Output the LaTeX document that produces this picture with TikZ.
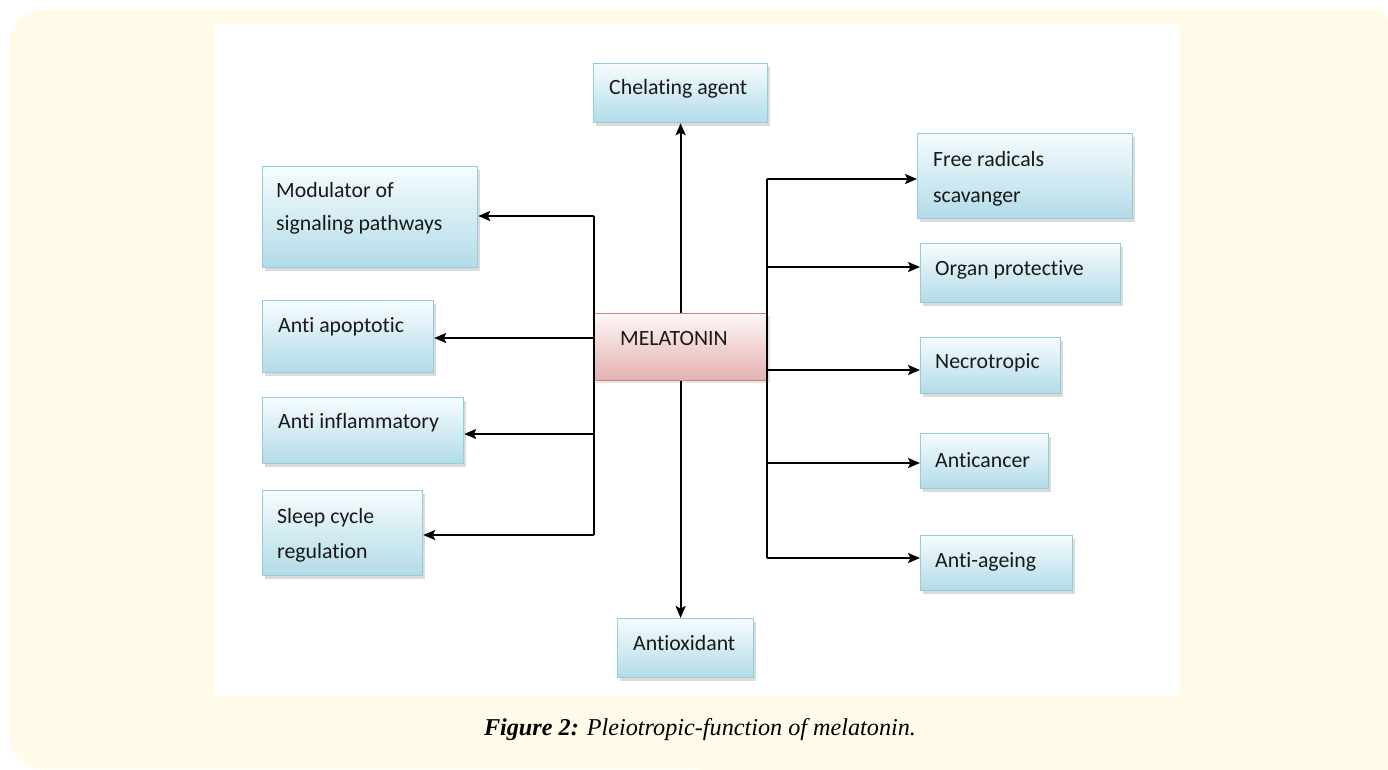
\documentclass[tikz,border=0pt]{standalone}
\usepackage{fontspec}
\setmainfont{Carlito}[Ligatures=CommonOff]
\newfontfamily\capfont{Liberation Serif}
\usetikzlibrary{arrows.meta,shadows}
\definecolor{cream}{RGB}{255,251,232}
\definecolor{bluetop}{RGB}{246,252,254}
\definecolor{bluebot}{RGB}{178,219,231}
\definecolor{blueline}{RGB}{146,205,220}
\definecolor{pinktop}{RGB}{253,246,246}
\definecolor{pinkbot}{RGB}{228,176,176}
\definecolor{pinkline}{RGB}{205,130,128}
\definecolor{txt}{RGB}{25,25,25}
\begin{document}
\begin{tikzpicture}[x=1pt,y=-1pt,
  box/.style={draw=blueline, line width=1.2pt, top color=bluetop, bottom color=bluebot,
    drop shadow={shadow xshift=2.5pt,shadow yshift=-3pt,fill=black!28},
    anchor=north west, inner sep=0pt},
  melbox/.style={draw=pinkline, line width=1.2pt, top color=pinktop, bottom color=pinkbot,
    drop shadow={shadow xshift=2pt,shadow yshift=-2.5pt,fill=black!20},
    anchor=north west, inner sep=0pt},
  lbl/.style={anchor=base west, inner sep=0pt, text=txt, font=\fontsize{21.8}{26}\selectfont},
  bus/.style={line width=1.8pt, black},
  arr/.style={line width=2pt, black, -{Stealth[length=12pt,width=10pt,inset=2.5pt]}},
  captxt/.style={font=\capfont\fontsize{24.2}{28}\selectfont\itshape, text=black}
]
\useasboundingbox (0,0) rectangle (1388,769);
% background
\fill[white] (0,0) rectangle (1388,769);
\fill[cream, rounded corners=32pt] (10,10) rectangle (1000,769);
\fill[cream, rounded corners=14pt] (700,10) rectangle (1388,800);
\fill[cream] (1100,600) rectangle (1388,769);
\fill[white] (215,25) rectangle (1180,695);

% boxes
\node[box, minimum width=174pt, minimum height=59pt] (chel) at (593,63) {};
\node[box, minimum width=215pt, minimum height=101pt] (mod) at (262,166) {};
\node[box, minimum width=171pt, minimum height=72pt] (apo) at (262,300) {};
\node[box, minimum width=201pt, minimum height=66pt] (infl) at (262,397) {};
\node[box, minimum width=160pt, minimum height=85pt] (sleep) at (262,490) {};
\node[box, minimum width=215pt, minimum height=85pt] (free) at (917,133) {};
\node[box, minimum width=200pt, minimum height=59pt] (organ) at (920,243) {};
\node[box, minimum width=140pt, minimum height=56pt] (necro) at (920,337) {};
\node[box, minimum width=128pt, minimum height=55pt] (cancer) at (920,433) {};
\node[box, minimum width=152pt, minimum height=55pt] (ageing) at (920,535) {};
\node[box, minimum width=136pt, minimum height=59pt] (antiox) at (617,618) {};
\node[melbox, minimum width=174pt, minimum height=67pt] (mel) at (593,313) {};

% labels
\node[lbl] (chelT) at (609,94) {Chelating agent};
\node[lbl] (melT) at (620,345) {MELATONIN};
\node[lbl] (modT1) at (276,197) {Modulator of};
\node[lbl] (modT2) at (276,230) {signaling pathways};
\node[lbl] (apoT) at (278,332) {Anti apoptotic};
\node[lbl] (inflT) at (278,428) {Anti inflammatory};
\node[lbl] (sleepT1) at (277,523) {Sleep cycle};
\node[lbl] (sleepT2) at (277,558) {regulation};
\node[lbl] (freeT1) at (933,166) {Free radicals};
\node[lbl] (freeT2) at (933,202) {scavanger};
\node[lbl] (organT) at (935,275) {Organ protective};
\node[lbl] (necroT) at (935,368) {Necrotropic};
\node[lbl] (cancerT) at (935,467) {Anticancer};
\node[lbl] (ageingT) at (935,567) {Anti-ageing};
\node[lbl] (antioxT) at (633,650) {Antioxidant};

% central connectors
\draw[arr] (mel.north) -- (chel.south);
\draw[arr] (mel.south) -- (mel.south |- antiox.north);

% left bus
\coordinate (l1) at (594,216);
\coordinate (l2) at (594,338);
\coordinate (l3) at (594,434);
\coordinate (l4) at (594,535);
\draw[bus] (l1) -- (l4);
\draw[arr] (l1) -- (l1 -| mod.east);
\draw[arr] (l2) -- (l2 -| apo.east);
\draw[arr] (l3) -- (l3 -| infl.east);
\draw[arr] (l4) -- (l4 -| sleep.east);

% right bus
\coordinate (r1) at (767,179);
\coordinate (r2) at (767,267);
\coordinate (r3) at (767,370);
\coordinate (r4) at (767,463);
\coordinate (r5) at (767,558);
\draw[bus] (r1) -- (r5);
\draw[arr] (r1) -- (r1 -| free.west);
\draw[arr] (r2) -- (r2 -| organ.west);
\draw[arr] (r3) -- (r3 -| necro.west);
\draw[arr] (r4) -- (r4 -| cancer.west);
\draw[arr] (r5) -- (r5 -| ageing.west);

% caption
\node[captxt] (cap) at (700,730) {\textbf{Figure 2:} Pleiotropic-function of melatonin.};
\end{tikzpicture}
\end{document}
